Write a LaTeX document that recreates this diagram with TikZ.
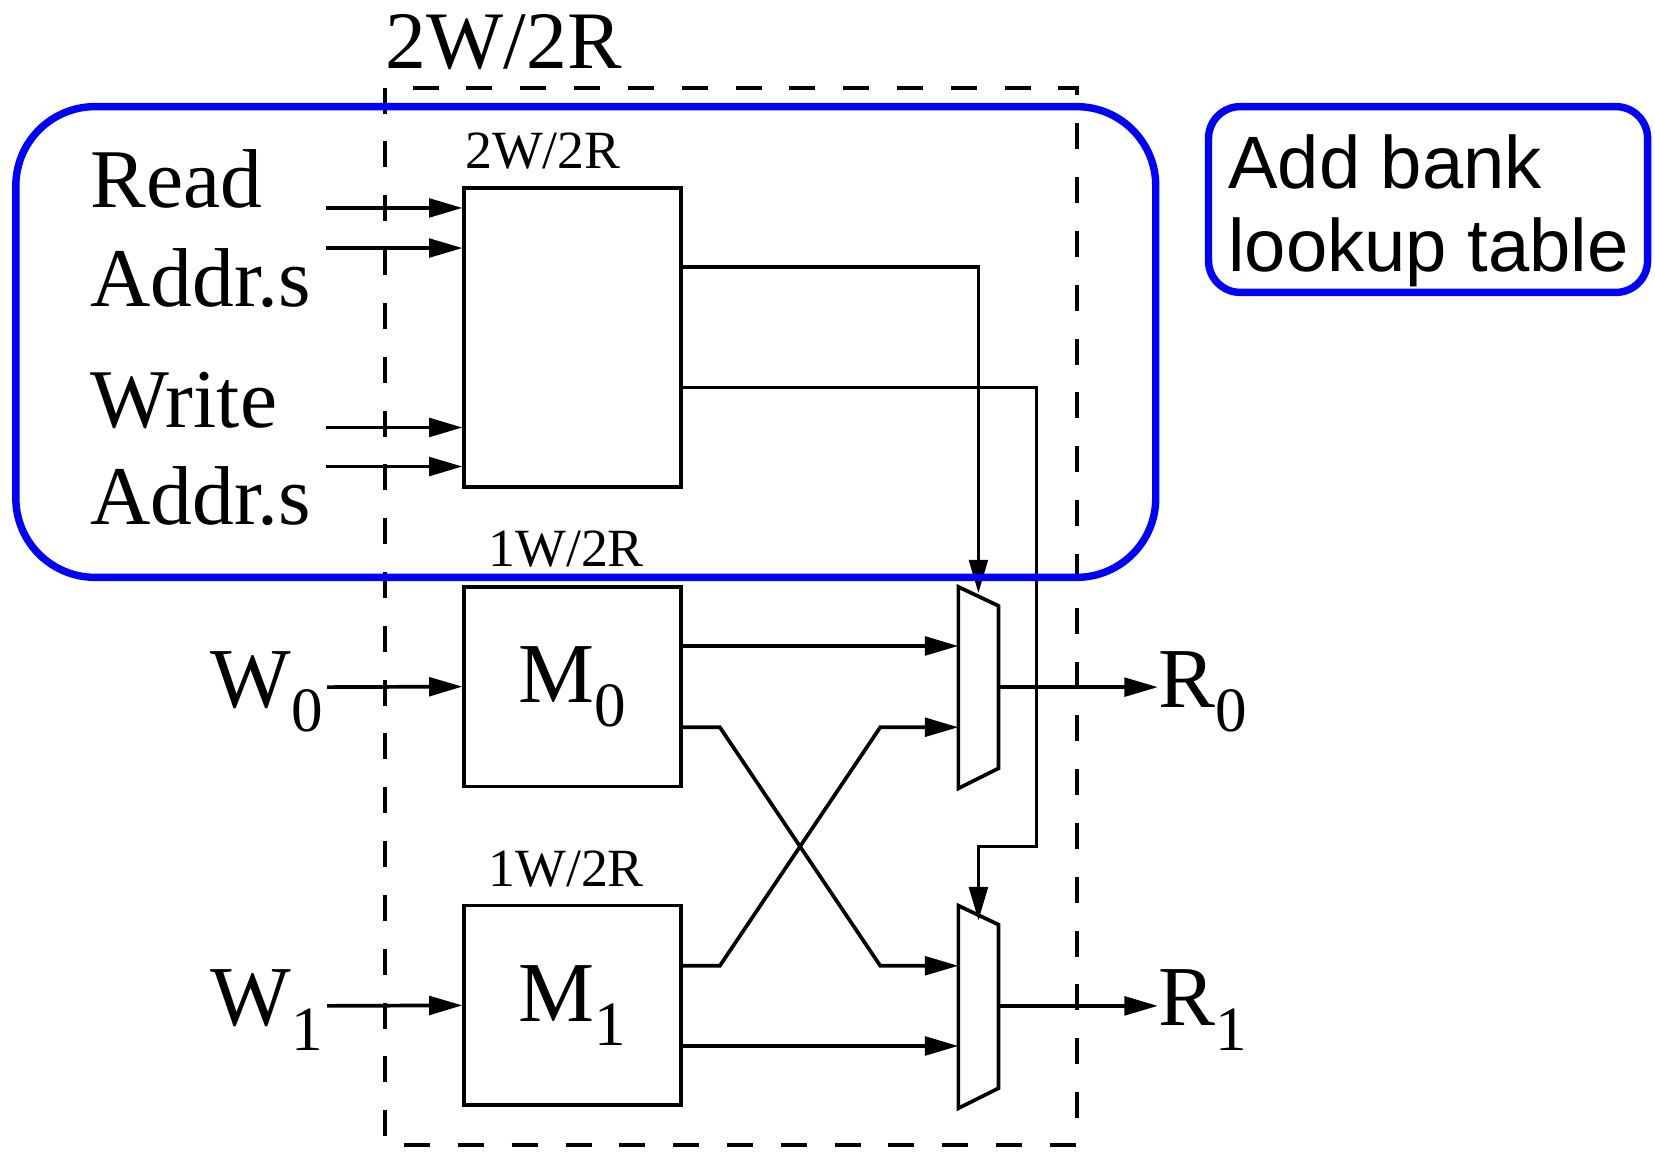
\documentclass[tikz,border=0pt]{standalone}
\usepackage{fontspec}
\setmainfont{Liberation Serif}
\newfontfamily\notefont{Liberation Sans}
\usetikzlibrary{arrows.meta}
\newcommand{\lowsub}[1]{\raisebox{-6.5pt}{\fontsize{17pt}{17pt}\selectfont #1}}

\begin{document}
\begin{tikzpicture}[x=0.01cm, y=-0.01cm,
    wire/.style={line width=1pt},
    arr/.style={wire, -{Triangle[length=9pt, width=5pt]}},
    box/.style={rectangle, draw, line width=1pt, inner sep=0pt, minimum width=2.05cm, font=\fontsize{23pt}{27pt}\selectfont},
    big/.style={anchor=base west, inner sep=0pt, font=\fontsize{22.5pt}{27pt}\selectfont},
    small/.style={anchor=base west, inner sep=0pt, font=\fontsize{14.5pt}{17pt}\selectfont},
    bankline/.style={line width=1.1pt, dash pattern=on 7pt off 7.5pt},
    hilite/.style={draw=blue, line width=2pt}]
    \useasboundingbox (0,0) rectangle (1568,1093);

    % Nodes
    \node (title) [big, font=\fontsize{22pt}{26pt}\selectfont] at (365,65) {2W/2R};
    \node (lutlbl) [small] at (440,160) {2W/2R};
    \node (lut) [box, minimum height=2.83cm] at (542.5,319.5) {};
    \node (readlbl) [big] at (85,197) {Read};
    \node (readaddr) [big] at (85,290) {Addr.s};
    \node (writelbl) [big] at (85,405) {Write};
    \node (writeaddr) [big] at (85,497) {Addr.s};

    \node (m0lbl) [small] at (462,537) {1W/2R};
    \node (m0) [box, minimum height=1.89cm] at (542.5,650.5) {M\lowsub{0}};
    \node (m1lbl) [small] at (462,840) {1W/2R};
    \node (m1) [box, minimum height=1.89cm] at (542.5,952.5) {M\lowsub{1}};

    \node (w0) [big, font=\fontsize{23pt}{27pt}\selectfont] at (199,670) {W\lowsub{0}};
    \node (w1) [big, font=\fontsize{23pt}{27pt}\selectfont] at (199,972) {W\lowsub{1}};
    \node (r0) [big, font=\fontsize{23pt}{27pt}\selectfont] at (1097,670) {R\lowsub{0}};
    \node (r1) [big, font=\fontsize{23pt}{27pt}\selectfont] at (1097,972) {R\lowsub{1}};

    \node (bank) [anchor=north west, align=left, inner sep=0pt, font=\notefont\fontsize{20pt}{22.3pt}\selectfont] at (1163,127) {Add bank\\lookup table};

    % Muxes
    \draw [wire] (908,556) -- (946,574) -- (946,728) -- (908,747) -- cycle;
    \draw [wire] (908,858) -- (946,876) -- (946,1031) -- (908,1050) -- cycle;
    \coordinate (mux0a) at (908,612);
    \coordinate (mux0b) at (908,689);
    \coordinate (mux0s) at (927,562);
    \coordinate (mux0o) at (946,651);
    \coordinate (mux1a) at (908,915);
    \coordinate (mux1b) at (908,991);
    \coordinate (mux1s) at (927,872);
    \coordinate (mux1o) at (946,953);

    % Free ends of the input wires
    \coordinate (rd0) at (309,197);
    \coordinate (rd1) at (309,235);
    \coordinate (wr0) at (309,405);
    \coordinate (wr1) at (309,442);
    \coordinate (w0in) at (310,651);
    \coordinate (w1in) at (310,953);

    % Connections
    \foreach \p in {rd0,rd1,wr0,wr1}
        \draw [arr] (\p) -- (\p -| lut.west);
    \draw [arr] (w0in) -- (m0.west);
    \draw [arr] (w1in) -- (m1.west);

    \draw [arr] (lut.east |- 0,253) -| (mux0s);
    \draw [arr] (lut.east |- 0,367) -| (982,802) -| (mux1s);

    \draw [arr] (m0.east |- mux0a) -- (mux0a);
    \draw [arr] (m0.east |- mux0b) -- (682,689) -- (834,915) -- (mux1a);
    \draw [arr] (m1.east |- mux1a) -- (682,915) -- (834,689) -- (mux0b);
    \draw [arr] (m1.east |- mux1b) -- (mux1b);

    \draw [arr] (mux0o) -- (r0.west |- mux0o);
    \draw [arr] (mux1o) -- (r1.west |- mux1o);

    % Bank boundary
    \draw [bankline] (365,83) rectangle (1020,1085);

    % Highlights
    \draw [hilite, rounded corners=0.75cm] (15,101) rectangle (1095,547);
    \draw [hilite, rounded corners=0.3cm] (1145,101) rectangle (1561,277);
\end{tikzpicture}
\end{document}
